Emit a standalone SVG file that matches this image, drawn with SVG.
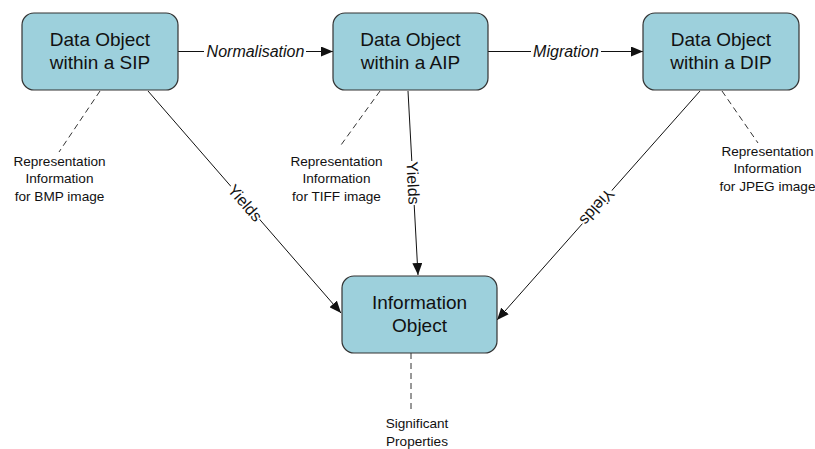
<svg xmlns="http://www.w3.org/2000/svg" width="815" height="449" viewBox="0 0 815 449">
<style>
.box{fill:#9dd0dc;stroke:#333;stroke-width:1.2}
.bt{font-family:"Liberation Sans",Arial,sans-serif;font-size:19px;fill:#111;text-anchor:middle}
.st{font-family:"Liberation Sans",Arial,sans-serif;font-size:13.6px;fill:#111;text-anchor:middle}
.lt{font-family:"Liberation Sans",Arial,sans-serif;font-size:16px;fill:#111;text-anchor:middle}
.it{font-style:italic}
.ln{stroke:#111;stroke-width:1;fill:none}
.dl{stroke:#333;stroke-width:1;fill:none;stroke-dasharray:6,4}
.bg{fill:#fff}
</style>
<defs>
<marker id="ah" viewBox="0 0 12 10" refX="12" refY="5" markerWidth="12" markerHeight="10" markerUnits="userSpaceOnUse" orient="auto">
<path d="M0,0 L12,5 L0,10 Z" fill="#111"/>
</marker>
</defs>
<g id="connectors">
<line class="ln" x1="178" y1="51.5" x2="333" y2="51.5" marker-end="url(#ah)"/>
<rect class="bg" x="204" y="40" width="102" height="22"/>
<text class="lt it" x="255.5" y="57">Normalisation</text>
<line class="ln" x1="488" y1="51.5" x2="643" y2="51.5" marker-end="url(#ah)"/>
<rect class="bg" x="531" y="40" width="70" height="22"/>
<text class="lt it" x="566" y="57">Migration</text>
<line class="ln" x1="148" y1="91" x2="341" y2="313" marker-end="url(#ah)"/>
<g transform="translate(245,203) rotate(49)"><rect class="bg" x="-22" y="-9" width="44" height="18"/><text class="lt" x="0" y="5.5">Yields</text></g>
<line class="ln" x1="408" y1="91" x2="418" y2="275" marker-end="url(#ah)"/>
<g transform="translate(413,183) rotate(87)"><rect class="bg" x="-22" y="-9" width="44" height="18"/><text class="lt" x="0" y="5.5">Yields</text></g>
<line class="ln" x1="700" y1="91" x2="497" y2="320" marker-end="url(#ah)"/>
<g transform="translate(597,207) rotate(131.6)"><rect class="bg" x="-22" y="-9" width="44" height="18"/><text class="lt" x="0" y="5.5">Yields</text></g>
<line class="dl" x1="100" y1="91" x2="59" y2="152"/>
<line class="dl" x1="380" y1="91" x2="341" y2="145"/>
<line class="dl" x1="722" y1="91" x2="758" y2="143"/>
<line class="dl" x1="411" y1="353" x2="411" y2="412"/>
</g>
<g id="sip">
<rect class="box" x="22" y="13" width="156" height="77" rx="12"/>
<text class="bt" x="100" y="46">Data Object</text>
<text class="bt" x="100" y="69">within a SIP</text>
</g>
<g id="aip">
<rect class="box" x="333" y="13" width="155" height="77" rx="12"/>
<text class="bt" x="410.5" y="46">Data Object</text>
<text class="bt" x="410.5" y="69">within a AIP</text>
</g>
<g id="dip">
<rect class="box" x="643" y="13" width="156" height="77" rx="12"/>
<text class="bt" x="721" y="46">Data Object</text>
<text class="bt" x="721" y="69">within a DIP</text>
</g>
<g id="info">
<rect class="box" x="342" y="276" width="155" height="77" rx="12"/>
<text class="bt" x="419.5" y="309">Information</text>
<text class="bt" x="419.5" y="332">Object</text>
</g>
<g id="ri-bmp">
<text class="st" x="59.5" y="166">Representation</text>
<text class="st" x="59.5" y="183">Information</text>
<text class="st" x="59.5" y="201">for BMP image</text>
</g>
<g id="ri-tiff">
<text class="st" x="336.5" y="166">Representation</text>
<text class="st" x="336.5" y="183">Information</text>
<text class="st" x="336.5" y="201">for TIFF image</text>
</g>
<g id="ri-jpeg">
<text class="st" x="767.5" y="156">Representation</text>
<text class="st" x="767.5" y="173">Information</text>
<text class="st" x="767.5" y="191">for JPEG image</text>
</g>
<g id="sigprops">
<text class="st" x="417" y="428">Significant</text>
<text class="st" x="417" y="446">Properties</text>
</g>
</svg>
